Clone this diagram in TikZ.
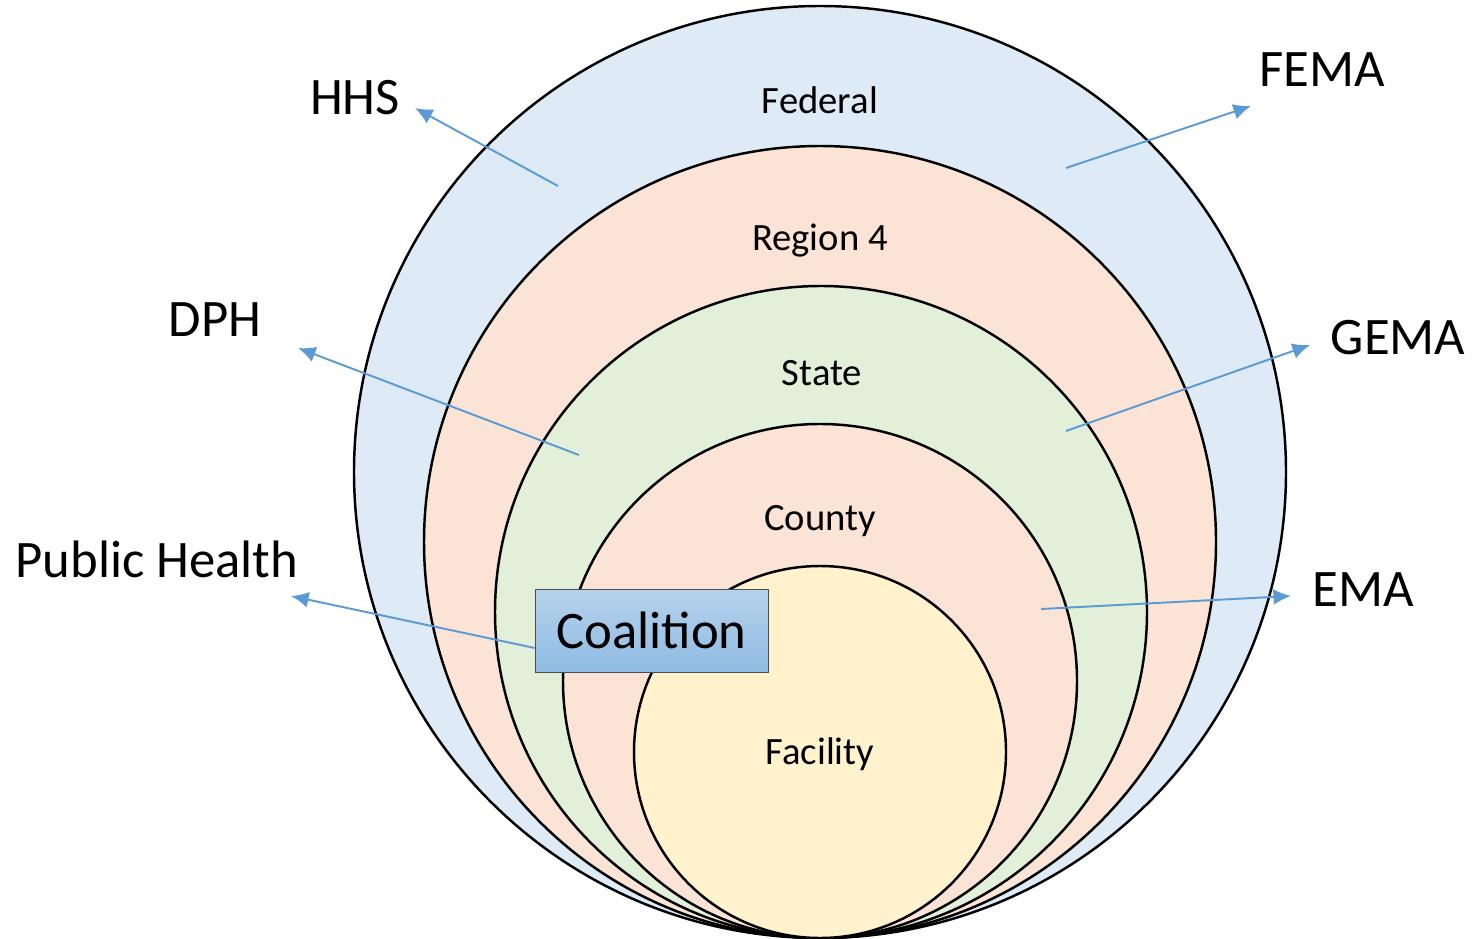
\documentclass[tikz,border=0pt]{standalone}
\usepackage{fontspec}
\setmainfont{Carlito}
\usepackage{tikz}
\usetikzlibrary{arrows.meta}
\definecolor{fedblue}{HTML}{DEEAF6}
\definecolor{peach}{HTML}{FBE4D5}
\definecolor{stategreen}{HTML}{E2EFD9}
\definecolor{facyellow}{HTML}{FFF2CC}
\definecolor{linkblue}{HTML}{5B9BD5}
\tikzset{
	ring/.style={draw=black, line width=1.4pt},
	level/.style={font=\fontsize{22}{26}\selectfont},
	agency/.style={font=\fontsize{30}{36}\selectfont},
	link/.style={linkblue, line width=1.1pt, -{Latex[length=10pt,width=9pt]}}
}

\begin{document}
\begin{tikzpicture}[x=0.02cm, y=-0.02cm]
	\useasboundingbox (0,0) rectangle (1473,939);
	
	% nested circles, all touching at the bottom
	\draw[ring, fill=fedblue] (820,472) circle (466);
	\draw[ring, fill=peach] (820,542) circle (396);
	\draw[ring, fill=stategreen] (821,612) circle (326);
	\draw[ring, fill=peach] (820,681) circle (257);
	\draw[ring, fill=facyellow] (820,752) circle (186);
	
	\node[level] (federal) at (820,100) {Federal};
	\node[level] (region) at (820,241) {Region 4};
	\node[level] (state) at (822,373) {State};
	\node[level] (county) at (820,521) {County};
	\node[level] (facility) at (820,754) {Facility};
	
	\node[draw=black!70, top color=linkblue!45, bottom color=linkblue!68, minimum width=4.66cm, minimum height=1.66cm, inner sep=0pt, agency] (coalition) at (651.5,630.5) {Coalition};
	
	\node[agency] (hhs) at (355,98) {HHS};
	\node[agency] (fema) at (1322,70) {FEMA};
	\node[agency] (dph) at (215,320) {DPH};
	\node[agency] (gema) at (1398,338) {GEMA};
	\node[agency] (pubhealth) at (157,559) {Public Health};
	\node[agency] (ema) at (1363,590) {EMA};
	
	\coordinate (hhsfrom) at (558,186);
	\coordinate (hhsto) at (415,108);
	\coordinate (femafrom) at (1066,168);
	\coordinate (femato) at (1251,106);
	\coordinate (dphfrom) at (579,455);
	\coordinate (dphto) at (298,348);
	\coordinate (gemafrom) at (1066,431);
	\coordinate (gemato) at (1310,345);
	\coordinate (phto) at (291,596);
	\coordinate (emafrom) at (1041,609);
	\coordinate (emato) at (1291,596);
	
	\draw[link] (hhsfrom) -- (hhsto);
	\draw[link] (femafrom) -- (femato);
	\draw[link] (dphfrom) -- (dphto);
	\draw[link] (gemafrom) -- (gemato);
	\draw[link] ([yshift=-0.35cm]coalition.west) -- (phto);
	\draw[link] (emafrom) -- (emato);
\end{tikzpicture}
\end{document}
